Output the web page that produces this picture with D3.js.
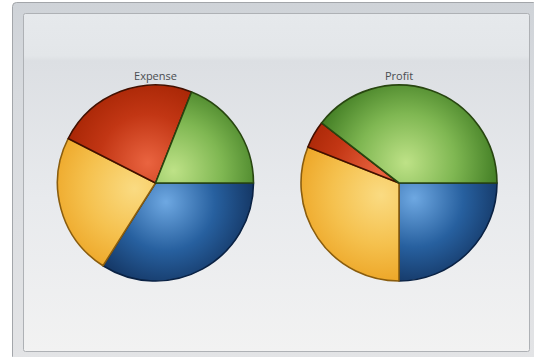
<!DOCTYPE html>
<html>
<head>
<meta charset="utf-8">
<script src="https://cdn.jsdelivr.net/npm/d3@7"></script>
<style>
  html, body { margin: 0; padding: 0; background: #ffffff; }
  svg { display: block; }
</style>
</head>
<body>
<svg id="chart" width="534" height="357"></svg>
<script>
// Four product lines, drawn clockwise from 3 o'clock
const categories = ["Product A", "Product B", "Product C", "Product D"];
const expenseValues = [34, 23.5, 23.5, 19];
const profitValues = [25, 31, 4.5, 39.5];
const chartTitles = ["Expense", "Profit"];

// Per-category shading: highlight, mid tone, rim and outline
const palette = [
  { light: "#6ea8e2", mid: "#27609f", dark: "#102d57", stroke: "#0a2244" },
  { light: "#fadb82", mid: "#f5c14e", dark: "#eb9f1d", stroke: "#8a5d0e" },
  { light: "#ea6440", mid: "#c23614", dark: "#9e2000", stroke: "#421000" },
  { light: "#bee287", mid: "#7fb752", dark: "#3b771f", stroke: "#284610" }
];

const svg = d3.select("#chart");
const defs = svg.append("defs");

// Frame and panel backgrounds
const outerGrad = defs.append("linearGradient").attr("id", "outerGrad")
  .attr("x1", 0).attr("y1", 0).attr("x2", 0).attr("y2", 1);
outerGrad.append("stop").attr("offset", 0).attr("stop-color", "#cfd3d8");
outerGrad.append("stop").attr("offset", 0.25).attr("stop-color", "#d7dade");
outerGrad.append("stop").attr("offset", 1).attr("stop-color", "#e3e4e6");

const panelGrad = defs.append("linearGradient").attr("id", "panelGrad")
  .attr("x1", 0).attr("y1", 0).attr("x2", 0).attr("y2", 1);
[[0, "#e6e9ec"], [0.125, "#e3e6e9"], [0.14, "#dcdfe3"], [0.55, "#e8eaed"], [1, "#f2f2f2"]]
  .forEach(([o, c]) => panelGrad.append("stop").attr("offset", o).attr("stop-color", c));

svg.append("rect")
  .attr("x", 12.5).attr("y", 2.5).attr("width", 525).attr("height", 358)
  .attr("rx", 4).attr("fill", "url(#outerGrad)")
  .attr("stroke", "#a3a6aa").attr("stroke-width", 1);

svg.append("rect")
  .attr("x", 23.5).attr("y", 13.5).attr("width", 506).attr("height", 338)
  .attr("rx", 2).attr("fill", "url(#panelGrad)")
  .attr("stroke", "#aeb1b5").attr("stroke-width", 1);

// Layout of the two pies
const radius = 98;
const centers = d3.scaleOrdinal().domain(chartTitles).range([155.5, 399]);
const centerY = 183;

const pie = d3.pie()
  .sort(null)
  .startAngle(Math.PI / 2)
  .endAngle(Math.PI / 2 + 2 * Math.PI);

const arc = d3.arc().innerRadius(0).outerRadius(radius);

const datasets = [expenseValues, profitValues];

datasets.forEach((values, di) => {
  const title = chartTitles[di];
  const cx = centers(title);
  const g = svg.append("g").attr("transform", `translate(${cx},${centerY})`);

  const arcs = pie(values);

  // Each slice gets a radial shade whose highlight sits a little way out along its bisector
  arcs.forEach((a, i) => {
    const mid = (a.startAngle + a.endAngle) / 2;
    const off = radius * 0.22;
    const gx = Math.sin(mid) * off;
    const gy = -Math.cos(mid) * off;
    const p = palette[i];
    const rg = defs.append("radialGradient").attr("id", `grad-${di}-${i}`)
      .attr("gradientUnits", "userSpaceOnUse")
      .attr("cx", gx).attr("cy", gy)
      .attr("fx", gx).attr("fy", gy)
      .attr("r", radius * 1.0);
    rg.append("stop").attr("offset", 0).attr("stop-color", p.light);
    rg.append("stop").attr("offset", 0.5).attr("stop-color", p.mid);
    rg.append("stop").attr("offset", 1).attr("stop-color", p.dark);
  });

  g.selectAll("path.slice")
    .data(arcs)
    .join("path")
    .attr("class", "slice")
    .attr("d", arc)
    .attr("fill", (d, i) => `url(#grad-${di}-${i})`)
    .attr("stroke", (d, i) => palette[i].stroke)
    .attr("stroke-width", 1.6)
    .attr("stroke-linejoin", "round");

  svg.append("text")
    .attr("x", cx)
    .attr("y", 80)
    .attr("text-anchor", "middle")
    .attr("font-family", "'Open Sans', 'DejaVu Sans', sans-serif")
    .attr("font-size", 11)
    .attr("fill", "#4a4d51")
    .text(title);
});
</script>
</body>
</html>
